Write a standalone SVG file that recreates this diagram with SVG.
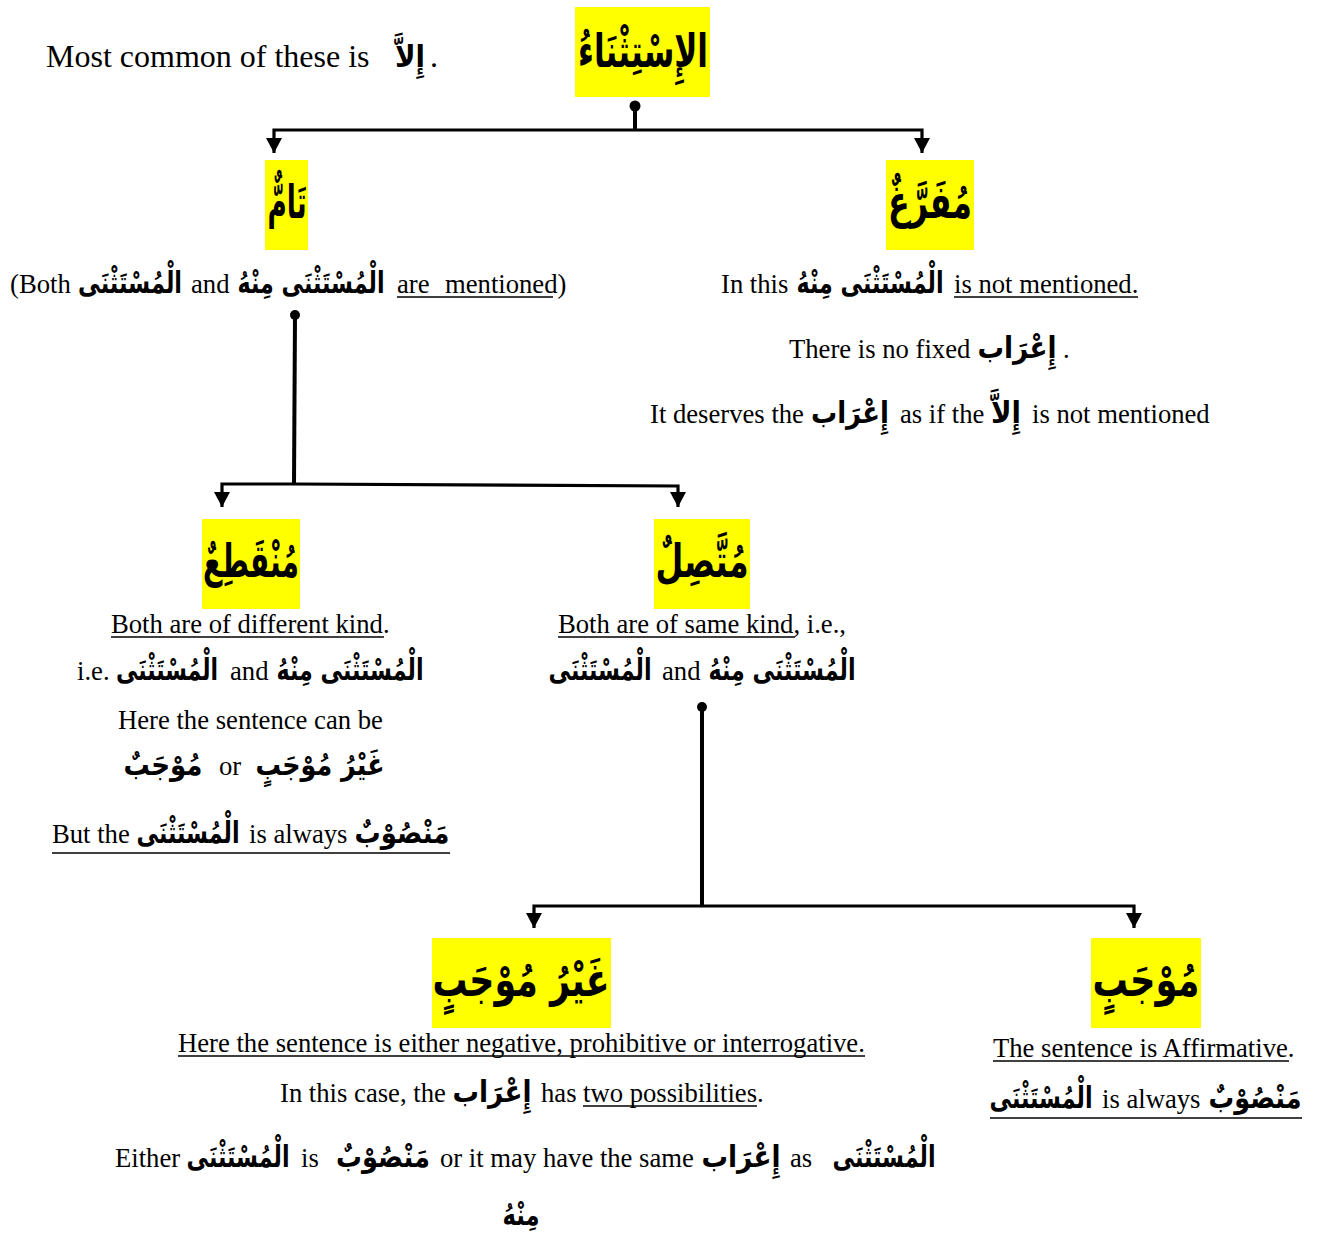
<svg xmlns="http://www.w3.org/2000/svg" width="1317" height="1234" viewBox="0 0 1317 1234">
<style>
.en{font-family:"Liberation Serif","Times New Roman",serif;font-size:26.67px;fill:#000}
.ar{font-family:"DejaVu Sans",sans-serif;font-weight:bold;font-size:30px;fill:#000;text-anchor:middle}
.big{font-size:46px}
.box{fill:#ffff00}
.ul{stroke:#000;stroke-width:1.6}
.con{fill:none;stroke:#000;stroke-width:3.2}
.stem{fill:none;stroke:#000;stroke-width:4}
</style>
<defs>
<marker id="arr" markerUnits="userSpaceOnUse" markerWidth="16" markerHeight="16" refX="15" refY="8" orient="auto" viewBox="0 0 16 16">
<path d="M0,0 L15,8 L0,16 z" fill="#000"/>
</marker>
</defs>
<rect width="1317" height="1234" fill="#fff"/>

<g id="connectors">
<path class="stem" d="M635,106 V130"/>
<path class="con" d="M635,130 H274 V153" marker-end="url(#arr)"/>
<path class="con" d="M635,130 H922 V153" marker-end="url(#arr)"/>
<circle cx="635" cy="106" r="5.5"/>
<path class="stem" d="M295,315 L294,484"/>
<path class="con" d="M294,484 H222 V507" marker-end="url(#arr)"/>
<path class="con" d="M294,484 L678,486 V507" marker-end="url(#arr)"/>
<circle cx="295" cy="315" r="5"/>
<path class="stem" d="M702,707 V906"/>
<path class="con" d="M702,906 H534 V928" marker-end="url(#arr)"/>
<path class="con" d="M702,906 H1134 V928" marker-end="url(#arr)"/>
<circle cx="702" cy="707" r="5"/>
</g>

<g id="note">
<text class="en" x="46" y="67" style="font-size:32px">Most common of these is</text>
<text class="ar" x="410" y="67" textLength="30" lengthAdjust="spacingAndGlyphs">إِلاَّ</text>
<text class="en" x="430" y="67" style="font-size:32px">.</text>
</g>

<g id="istithna">
<rect class="box" x="575" y="7" width="135" height="90"/>
<text class="ar big" x="643" y="67" textLength="130" lengthAdjust="spacingAndGlyphs">الإِسْتِثْنَاءُ</text>
</g>

<g id="tam">
<rect class="box" x="265" y="160" width="43" height="90"/>
<text class="ar big" x="287" y="218" textLength="39" lengthAdjust="spacingAndGlyphs">تَامٌّ</text>
<text class="en" x="10" y="293">(Both</text>
<text class="ar" x="130" y="293" textLength="104" lengthAdjust="spacingAndGlyphs">الْمُسْتَثْنَى</text>
<text class="en" x="191" y="293">and</text>
<text class="ar" x="311" y="293" textLength="147" lengthAdjust="spacingAndGlyphs">الْمُسْتَثْنَى مِنْهُ</text>
<text class="en" x="397" y="293">are</text>
<text class="en" x="445" y="293">mentioned)</text>
<line class="ul" x1="397" y1="297" x2="553" y2="297"/>
</g>

<g id="mufarragh">
<rect class="box" x="886" y="160" width="88" height="90"/>
<text class="ar big" x="930" y="218" textLength="84" lengthAdjust="spacingAndGlyphs">مُفَرَّغٌ</text>
<text class="en" x="721" y="293">In this</text>
<text class="ar" x="870" y="293" textLength="147" lengthAdjust="spacingAndGlyphs">الْمُسْتَثْنَى مِنْهُ</text>
<text class="en" x="954" y="293">is not mentioned.</text>
<line class="ul" x1="954" y1="297" x2="1138" y2="297"/>
<text class="en" x="789" y="358">There is no fixed</text>
<text class="ar" x="1017" y="358" textLength="79" lengthAdjust="spacingAndGlyphs">إِعْرَاب</text>
<text class="en" x="1063" y="358">.</text>
<text class="en" x="650" y="423">It deserves the</text>
<text class="ar" x="850" y="423" textLength="78" lengthAdjust="spacingAndGlyphs">إِعْرَاب</text>
<text class="en" x="900" y="423">as if the</text>
<text class="ar" x="1006" y="423" textLength="30" lengthAdjust="spacingAndGlyphs">إِلاَّ</text>
<text class="en" x="1032" y="423">is not mentioned</text>
</g>

<g id="munqati">
<rect class="box" x="202" y="519" width="98" height="90"/>
<text class="ar big" x="251" y="577" textLength="96" lengthAdjust="spacingAndGlyphs">مُنْقَطِعٌ</text>
<text class="en" x="111" y="633">Both are of different kind.</text>
<line class="ul" x1="111" y1="637" x2="384" y2="637"/>
<text class="en" x="77" y="680">i.e.</text>
<text class="ar" x="167" y="680" textLength="102" lengthAdjust="spacingAndGlyphs">الْمُسْتَثْنَى</text>
<text class="en" x="230" y="680">and</text>
<text class="ar" x="350" y="680" textLength="147" lengthAdjust="spacingAndGlyphs">الْمُسْتَثْنَى مِنْهُ</text>
<text class="en" x="118" y="729">Here the sentence can be</text>
<text class="ar" x="163" y="775" textLength="79" lengthAdjust="spacingAndGlyphs">مُوْجَبٌ</text>
<text class="en" x="219" y="775">or</text>
<text class="ar" x="320" y="775" textLength="129" lengthAdjust="spacingAndGlyphs">غَيْرُ مُوْجَبٍ</text>
<text class="en" x="52" y="843">But the</text>
<text class="ar" x="188" y="843" textLength="103" lengthAdjust="spacingAndGlyphs">الْمُسْتَثْنَى</text>
<text class="en" x="249" y="843">is always</text>
<text class="ar" x="402" y="843" textLength="95" lengthAdjust="spacingAndGlyphs">مَنْصُوْبٌ</text>
<line class="ul" x1="52" y1="853" x2="450" y2="853"/>
</g>

<g id="muttasil">
<rect class="box" x="654" y="519" width="96" height="90"/>
<text class="ar big" x="702" y="577" textLength="93" lengthAdjust="spacingAndGlyphs">مُتَّصِلٌ</text>
<text class="en" x="558" y="633">Both are of same kind, i.e.,</text>
<line class="ul" x1="558" y1="637" x2="795" y2="637"/>
<text class="ar" x="600" y="680" textLength="103" lengthAdjust="spacingAndGlyphs">الْمُسْتَثْنَى</text>
<text class="en" x="662" y="680">and</text>
<text class="ar" x="782" y="680" textLength="147" lengthAdjust="spacingAndGlyphs">الْمُسْتَثْنَى مِنْهُ</text>
</g>

<g id="ghayr-mujab">
<rect class="box" x="432" y="938" width="179" height="90"/>
<text class="ar big" x="521" y="996" textLength="177" lengthAdjust="spacingAndGlyphs">غَيْرُ مُوْجَبٍ</text>
<text class="en" x="178" y="1052">Here the sentence is either negative, prohibitive or interrogative.</text>
<line class="ul" x1="178" y1="1056" x2="865" y2="1056"/>
<text class="en" x="280" y="1102">In this case, the</text>
<text class="ar" x="492" y="1102" textLength="79" lengthAdjust="spacingAndGlyphs">إِعْرَاب</text>
<text class="en" x="541" y="1102">has</text>
<text class="en" x="583" y="1102">two possibilities.</text>
<line class="ul" x1="583" y1="1106" x2="757" y2="1106"/>
<text class="en" x="115" y="1167">Either</text>
<text class="ar" x="238" y="1167" textLength="103" lengthAdjust="spacingAndGlyphs">الْمُسْتَثْنَى</text>
<text class="en" x="301" y="1167">is</text>
<text class="ar" x="383" y="1167" textLength="94" lengthAdjust="spacingAndGlyphs">مَنْصُوْبٌ</text>
<text class="en" x="440" y="1167">or it may have the same</text>
<text class="ar" x="741" y="1167" textLength="79" lengthAdjust="spacingAndGlyphs">إِعْرَاب</text>
<text class="en" x="790" y="1167">as</text>
<text class="ar" x="884" y="1167" textLength="103" lengthAdjust="spacingAndGlyphs">الْمُسْتَثْنَى</text>
<text class="ar" x="521" y="1225" textLength="37" lengthAdjust="spacingAndGlyphs">مِنْهُ</text>
</g>

<g id="mujab">
<rect class="box" x="1091" y="938" width="110" height="90"/>
<text class="ar big" x="1146" y="996" textLength="107" lengthAdjust="spacingAndGlyphs">مُوْجَبٍ</text>
<text class="en" x="993" y="1057">The sentence is Affirmative.</text>
<line class="ul" x1="993" y1="1061" x2="1289" y2="1061"/>
<text class="ar" x="1041" y="1108" textLength="103" lengthAdjust="spacingAndGlyphs">الْمُسْتَثْنَى</text>
<text class="en" x="1102" y="1108">is always</text>
<text class="ar" x="1255" y="1108" textLength="93" lengthAdjust="spacingAndGlyphs">مَنْصُوْبٌ</text>
<line class="ul" x1="990" y1="1118" x2="1302" y2="1118"/>
</g>
</svg>
